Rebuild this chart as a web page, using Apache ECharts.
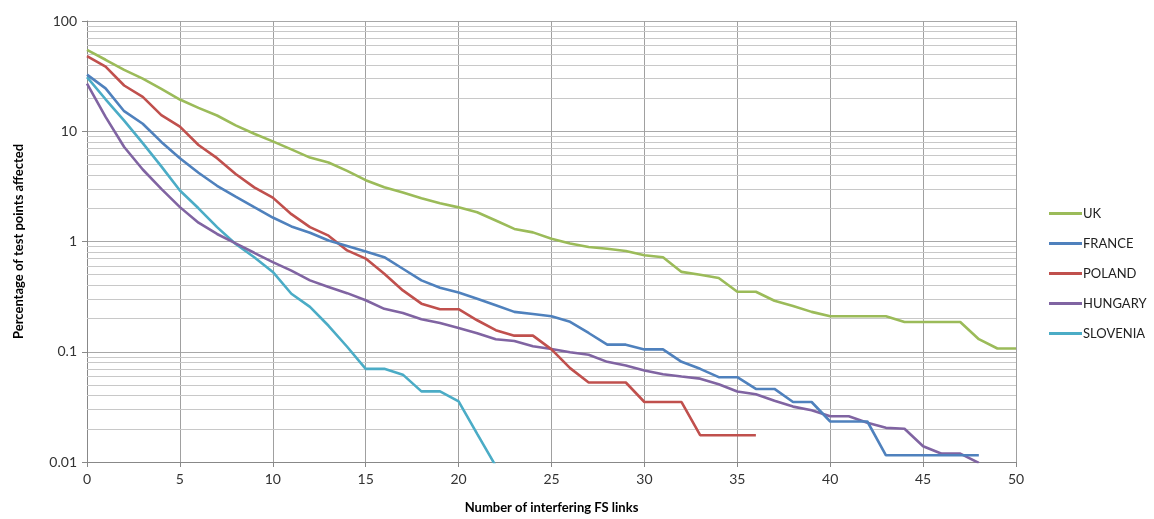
<!DOCTYPE html>
<html>
<head>
<meta charset="utf-8">
<script src="https://cdn.jsdelivr.net/npm/echarts@6/dist/echarts.min.js"></script>
<style>html,body{margin:0;padding:0;background:#fff}#c{width:1154px;height:519px}</style>
</head>
<body>
<div id="c"></div>
<script>
// x: number of interfering FS links (0..50)
const uk = [54.7,44.5,36,30,24.2,19.4,16.3,13.9,11.3,9.5,8.1,6.85,5.77,5.2,4.37,3.6,3.1,2.78,2.47,2.22,2.04,1.84,1.55,1.3,1.21,1.06,0.96,0.89,0.86,0.82,0.75,0.72,0.53,0.5,0.467,0.35,0.35,0.29,0.26,0.23,0.21,0.21,0.21,0.21,0.186,0.186,0.186,0.186,0.13,0.107,0.107];
const france = [32.6,24.5,15.2,11.7,8,5.7,4.2,3.2,2.55,2.05,1.65,1.37,1.2,1.02,0.91,0.81,0.72,0.566,0.444,0.38,0.345,0.303,0.264,0.23,0.22,0.21,0.187,0.148,0.116,0.116,0.105,0.105,0.081,0.07,0.0588,0.0588,0.046,0.046,0.035,0.035,0.0233,0.0233,0.0233,0.0115,0.0115,0.0115,0.0115,0.0115,0.0115];
const poland = [48,38.5,26,20.5,14,11,7.5,5.7,4.1,3.1,2.5,1.77,1.35,1.13,0.83,0.7,0.51,0.36,0.273,0.243,0.243,0.193,0.157,0.14,0.14,0.105,0.071,0.0526,0.0526,0.0526,0.035,0.035,0.035,0.0175,0.0175,0.0175,0.0175];
const hungary = [27,13.5,7.2,4.5,3.0,2.05,1.48,1.17,0.96,0.79,0.65,0.545,0.444,0.386,0.34,0.293,0.245,0.225,0.197,0.182,0.164,0.147,0.13,0.125,0.112,0.106,0.099,0.094,0.081,0.075,0.0676,0.0625,0.0596,0.057,0.0508,0.0436,0.0412,0.0359,0.0318,0.0295,0.026,0.026,0.0227,0.0204,0.02,0.0139,0.0119,0.0119,0.0098];
const slovenia = [31,19.5,12.5,7.8,4.8,2.9,2.0,1.35,0.95,0.72,0.53,0.336,0.255,0.172,0.111,0.07,0.07,0.062,0.0437,0.0437,0.0355,0.018,0.0092];

const seriesNames = ['UK','FRANCE','POLAND','HUNGARY','SLOVENIA'];
const seriesColors = ['#9BBB59','#4F81BD','#C0504D','#8064A2','#4BACC6'];
const yTickValues = [0.01,0.1,1,10,100];
const yTickLabels = ['0.01','0.1','1','10','100'];
const minorGridValues = [];
[0.01,0.1,1,10].forEach(d => { for (let k = 2; k <= 9; k++) minorGridValues.push(+(d*k).toPrecision(3)); });

const allData = [uk, france, poland, hungary, slovenia];
const font = 'Lato, "Open Sans", sans-serif';

const chart = echarts.init(document.getElementById('c'));
const series = allData.map((arr, si) => ({
  name: seriesNames[si],
  type: 'line',
  data: arr.map((v, i) => [i, v]),
  symbol: 'none',
  smooth: false,
  clip: true,
  lineStyle: { width: 2.6, color: seriesColors[si] },
  itemStyle: { color: seriesColors[si] },
  z: 5 + (5 - si)
}));
series.push({
  name: '_grid',
  type: 'line',
  data: [],
  silent: true,
  markLine: {
    silent: true,
    symbol: 'none',
    label: { show: false },
    lineStyle: { color: '#c8c8c8', width: 1, type: 'solid' },
    data: minorGridValues.map(v => ({ yAxis: v }))
  },
  z: 1
});

chart.setOption({
  animation: false,
  backgroundColor: '#fff',
  grid: { left: 87, right: 138, top: 21, bottom: 55 },
  legend: {
    data: seriesNames,
    orient: 'vertical',
    left: 1044,
    top: 202,
    icon: 'rect',
    itemWidth: 33,
    itemHeight: 3,
    itemGap: 17,
    textStyle: { fontFamily: font, fontSize: 13, color: '#222', padding: [0,0,0,-4] }
  },
  xAxis: {
    type: 'value',
    min: 0, max: 50, interval: 5,
    name: 'Number of interfering FS links',
    nameLocation: 'middle',
    nameGap: 39,
    nameTextStyle: { fontFamily: font, fontSize: 13, fontWeight: 'bold', color: '#000' },
    axisLine: { show: true, lineStyle: { color: '#888' } },
    axisTick: { show: true, length: 5, lineStyle: { color: '#888' } },
    axisLabel: { fontFamily: font, fontSize: 14, color: '#333', margin: 10 },
    splitLine: { show: true, lineStyle: { color: '#a0a0a0', width: 1 } }
  },
  yAxis: {
    type: 'log',
    logBase: 10,
    min: 0.01, max: 100,
    name: 'Percentage of test points affected',
    nameLocation: 'middle',
    nameGap: 62,
    nameRotate: 90,
    nameTextStyle: { fontFamily: font, fontSize: 13, fontWeight: 'bold', color: '#000' },
    axisLine: { show: true, lineStyle: { color: '#888' } },
    axisTick: { show: true, length: 5, lineStyle: { color: '#888' } },
    axisLabel: {
      fontFamily: font, fontSize: 14, color: '#333', margin: 10,
      formatter: v => { const idx = yTickValues.findIndex(t => Math.abs(Math.log10(t) - Math.log10(v)) < 1e-6); return idx >= 0 ? yTickLabels[idx] : ''; }
    },
    splitLine: { show: true, lineStyle: { color: '#a8a8a8', width: 1 } }
  },
  series: series
});
</script>
</body>
</html>
